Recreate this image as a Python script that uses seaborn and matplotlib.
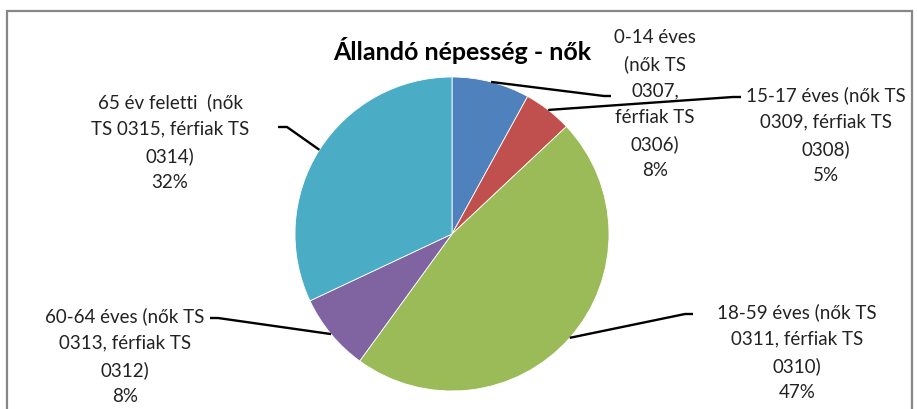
import numpy as np
import matplotlib
matplotlib.use("Agg")
import matplotlib.pyplot as plt
import seaborn as sns
from matplotlib.patches import Rectangle

# ── DATA ───────────────────────────────────────────────
labels = [
    "0-14 éves\n(nők TS\n0307,\nférfiak TS\n0306)",
    "15-17 éves (nők TS\n0309, férfiak TS\n0308)",
    "18-59 éves (nők TS\n0311, férfiak TS\n0310)",
    "60-64 éves (nők TS\n0313, férfiak TS\n0312)",
    "65 év feletti  (nők\nTS 0315, férfiak TS\n0314)",
]
values = [8, 5, 47, 8, 32]
colors = ["#4F81BD", "#C0504D", "#9BBB59", "#8064A2", "#4BACC6"]
title = "Állandó népesség - nők"

# label centres and leader elbows in pixels (x, y from top)
label_pos = [(655, 104), (826, 135), (797, 352), (125, 356), (170, 142)]
elbows = [(604, 97), (733, 98), (685, 315), (218, 319), (287, 128)]
ends = [(611, 97), (741, 98), (693, 315), (210, 319), (278, 128)]

# ── LAYOUT ─────────────────────────────────────────────
W, H = 917, 410
CX, CY, R = 452, 235, 157

def px(x, y):
    return (x - CX) / R, (CY - y) / R

sns.set_theme(style="white")
plt.rcParams["font.family"] = ["Lato", "DejaVu Sans"]

fig = plt.figure(figsize=(W / 100, H / 100), dpi=100)
ax = fig.add_axes([0, 0, 1, 1])

wedges, _ = ax.pie(values, colors=colors, startangle=90, counterclock=False,
                   radius=1, center=(0, 0),
                   wedgeprops=dict(linewidth=0.6, edgecolor="white"))

# pie() resets the limits, so set them afterwards
ax.set_aspect("auto")
ax.set_xlim(-CX / R, (W - CX) / R)
ax.set_ylim(-(H - CY) / R, CY / R)
ax.axis("off")

for w, lab, v, lp, el, en in zip(wedges, labels, values, label_pos, elbows, ends):
    ang = np.deg2rad((w.theta1 + w.theta2) / 2)
    x0, y0 = np.cos(ang), np.sin(ang)
    ex, ey = px(*el)
    nx, ny = px(*en)
    ax.plot([x0, ex, nx], [y0, ey, ny], color="black", lw=1.7,
            solid_capstyle="butt")
    tx, ty = px(*lp)
    ax.text(tx, ty, f"{lab}\n{v}%", ha="center", va="center",
            fontsize=13.5, linespacing=1.65, color="#222222")

tx, ty = px(462, 50)
ax.text(tx, ty, title, ha="center", va="center", fontsize=18,
        fontweight="bold", color="black")

# chart frame
fig.patches.append(Rectangle((7 / W, -0.1), (912 - 7) / W, 1.1 - 12 / H,
                             transform=fig.transFigure, fill=False,
                             edgecolor="#878787", lw=1.6))

plt.savefig("out.png", dpi=100)
